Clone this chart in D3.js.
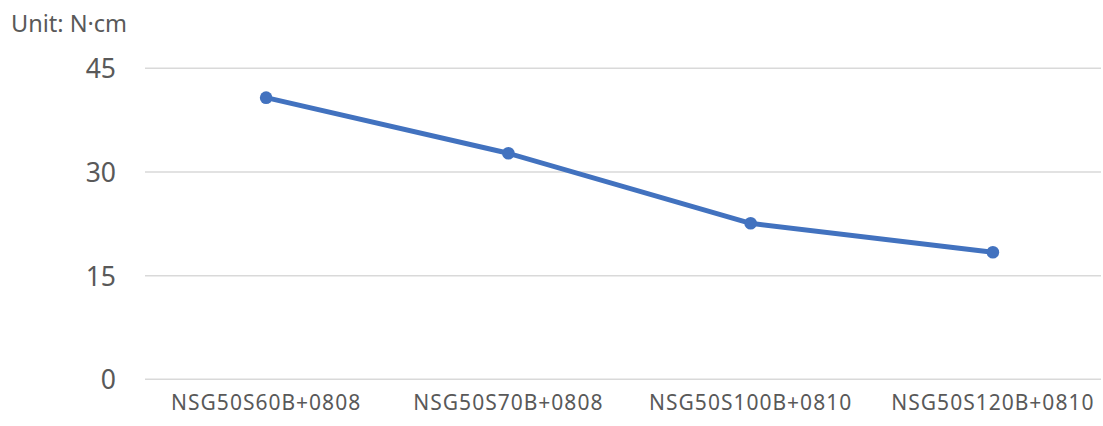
<!DOCTYPE html>
<html>
<head>
<meta charset="utf-8">
<script src="https://cdn.jsdelivr.net/npm/d3@7"></script>
<style>
  html, body { margin: 0; padding: 0; background: #fff; }
  svg { display: block; }
  text { font-family: "Noto Sans", "Open Sans", sans-serif; fill: #595959; }
</style>
</head>
<body>
<svg id="chart" width="1103" height="426"></svg>
<script>
// Torque per model (N·cm)
const categories = ["NSG50S60B+0808", "NSG50S70B+0808", "NSG50S100B+0810", "NSG50S120B+0810"];
const torque = [40.75, 32.7, 22.57, 18.38];
const yTicks = [0, 15, 30, 45];
const unitLabel = "Unit: N·cm";

const svg = d3.select("#chart");
const plot = { left: 145, right: 1114, top: 68.3, bottom: 379.3 };

const x = d3.scaleBand().domain(categories).range([plot.left, plot.right]);
const y = d3.scaleLinear().domain([0, 45]).range([plot.bottom, plot.top]);

// horizontal gridlines
svg.append("g")
  .selectAll("line")
  .data(yTicks)
  .join("line")
  .attr("x1", plot.left)
  .attr("x2", 1101)
  .attr("y1", d => y(d))
  .attr("y2", d => y(d))
  .attr("stroke", "#d9d9d9")
  .attr("stroke-width", 1.5);

// y axis labels
const yAxis = d3.axisLeft(y).tickValues(yTicks).tickSize(0).tickPadding(0);
const gy = svg.append("g").attr("transform", "translate(116,0)").call(yAxis);
gy.select(".domain").remove();
gy.selectAll("text")
  .attr("font-size", 26.5)
  .attr("fill", "#595959")
  .attr("font-family", null)
  .attr("dy", "0.36em");

// x axis labels
const xAxis = d3.axisBottom(x).tickSize(0).tickPadding(0);
const gx = svg.append("g").attr("transform", "translate(0,395)").call(xAxis);
gx.select(".domain").remove();
gx.selectAll("text")
  .attr("font-size", 21)
  .attr("letter-spacing", "1px")
  .attr("fill", "#595959")
  .attr("font-family", null)
  .attr("dy", "0.71em");

// unit label
svg.append("text")
  .attr("x", 11)
  .attr("y", 31.5)
  .attr("font-size", 23.5)
  .text(unitLabel);

// series line
const cx = d => x(d) + x.bandwidth() / 2;
const pts = categories.map((c, i) => [cx(c), y(torque[i])]);
svg.append("path")
  .attr("d", d3.line()(pts))
  .attr("fill", "none")
  .attr("stroke", "#4272BF")
  .attr("stroke-width", 5)
  .attr("stroke-linejoin", "round")
  .attr("stroke-linecap", "round");

svg.append("g")
  .selectAll("circle")
  .data(pts)
  .join("circle")
  .attr("cx", d => d[0])
  .attr("cy", d => d[1])
  .attr("r", 6.3)
  .attr("fill", "#4272BF");
</script>
</body>
</html>
